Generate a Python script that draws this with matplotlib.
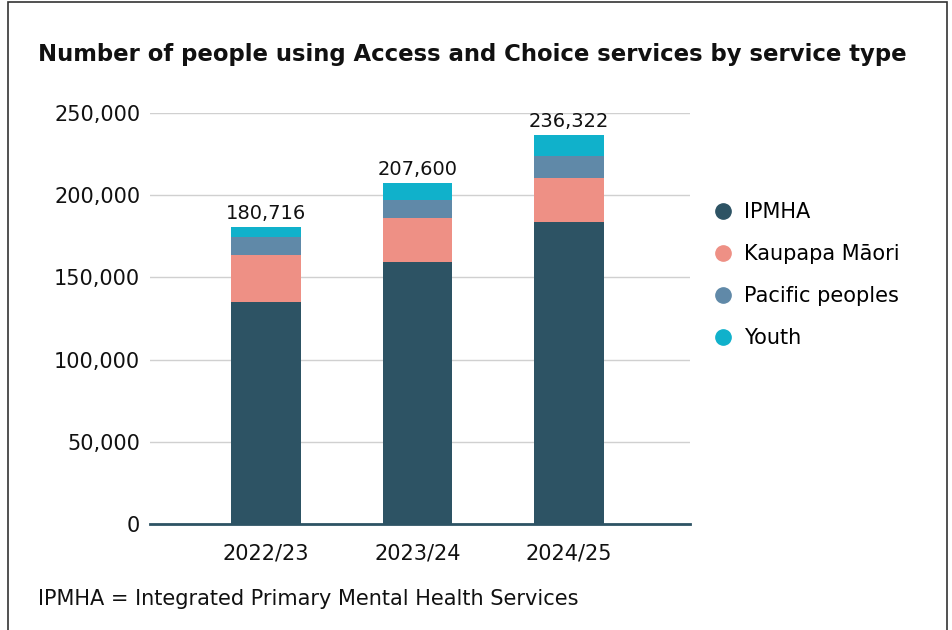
import matplotlib
matplotlib.use("Agg")
import matplotlib.pyplot as plt
from matplotlib.lines import Line2D
from matplotlib.patches import Rectangle
import numpy as np

years = ["2022/23", "2023/24", "2024/25"]
series_names = ["IPMHA", "Kaupapa Māori", "Pacific peoples", "Youth"]
ipmha = [135000, 159300, 183600]
kaupapa = [28500, 27100, 26700]
pacific = [11000, 10600, 13800]
youth = [6216, 10600, 12222]
totals = ["180,716", "207,600", "236,322"]
yticks = [0, 50000, 100000, 150000, 200000, 250000]
ytick_labels = ["0", "50,000", "100,000", "150,000", "200,000", "250,000"]
colors = ["#2d5364", "#ee9085", "#6089a8", "#10b1cb"]

plt.rcParams['font.family'] = ['DejaVu Sans']

W, H = 952, 630
fig = plt.figure(figsize=(W / 100, H / 100), dpi=100)

# outer frame
fig.patches.append(Rectangle((8 / W, -0.01), (947 - 8) / W, 1.01 - 2 / H,
                             transform=fig.transFigure, fill=False,
                             edgecolor="#333333", linewidth=1.2))

ax = fig.add_axes([150 / W, 1 - 524 / H, (690 - 150) / W, (524 - 113) / H])

x = np.arange(len(years))
bw = 0.46
bottom = np.zeros(len(years))
for vals, c in zip([ipmha, kaupapa, pacific, youth], colors):
    ax.bar(x, vals, bw, bottom=bottom, color=c, zorder=3)
    bottom += np.array(vals)

for xi, tot, lab in zip(x, bottom, totals):
    ax.text(xi, tot + 2500, lab, ha="center", va="bottom", fontsize=14, color="#111111")

ax.set_xlim(-0.766, 2.80)
ax.set_ylim(0, 250000)
ax.set_yticks(yticks)
ax.set_yticklabels(ytick_labels, fontsize=15, color="#111111")
ax.set_xticks(x)
ax.set_xticklabels(years, fontsize=15, color="#111111")
ax.tick_params(axis="both", length=0)
ax.tick_params(axis="y", pad=7)
ax.tick_params(axis="x", pad=14)
ax.grid(axis="y", color="#d0d0d0", linewidth=1, zorder=0)
for s in ["top", "right", "left"]:
    ax.spines[s].set_visible(False)
ax.spines["bottom"].set_color("#2d5364")
ax.spines["bottom"].set_linewidth(2)
ax.spines["bottom"].set_zorder(4)

fig.text(38 / W, 1 - 55 / H, "Number of people using Access and Choice services by service type",
         fontsize=16.4, fontweight="bold", ha="left", va="center", color="#111111")
fig.text(38 / W, 1 - 599 / H, "IPMHA = Integrated Primary Mental Health Services",
         fontsize=15, ha="left", va="center", color="#111111")

handles = [Line2D([0], [0], marker="o", linestyle="", markersize=11,
                  markerfacecolor=c, markeredgecolor=c) for c in colors]
fig.legend(handles, series_names, loc="center left",
           bbox_to_anchor=(704 / W, 1 - 275 / H), frameon=False,
           fontsize=15, handletextpad=0.5, labelspacing=1.05,
           handlelength=1.0, borderaxespad=0)

fig.savefig("out.png", dpi=100)
